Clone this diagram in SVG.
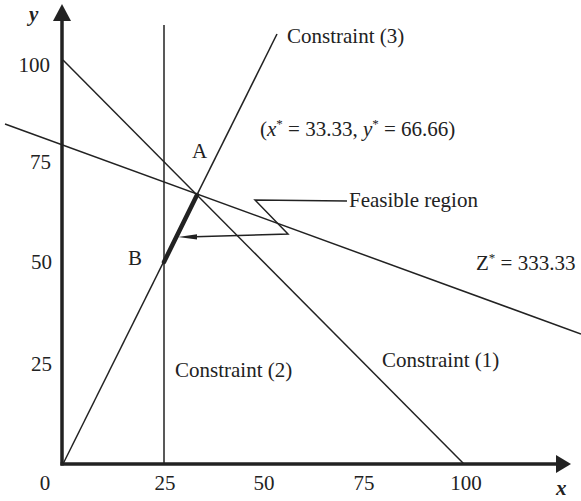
<svg xmlns="http://www.w3.org/2000/svg" width="581" height="501" viewBox="0 0 581 501">
<defs>
<style>
.t{font-family:"Liberation Serif","Times New Roman",serif;font-size:21px;fill:#222}
.ax{font-family:"Liberation Serif","Times New Roman",serif;font-size:21px;font-style:italic;font-weight:bold;fill:#222}
.ln{stroke:#222;stroke-width:1.5;fill:none}
.axis{stroke:#222;stroke-width:3.5;fill:none}
.sup{font-size:13px}
</style>
</defs>
<rect width="581" height="501" fill="#fff"/>
<g id="axes">
<line class="axis" x1="62" y1="465.5" x2="62" y2="18"/>
<polygon points="53,21 62,4 71,21" fill="#222"/>
<line class="axis" x1="60.5" y1="464" x2="557" y2="464"/>
<polygon points="556,455 571,464 556,473" fill="#222"/>
<text class="ax" x="29" y="21">y</text>
<text class="ax" x="556" y="495">x</text>
<text class="t" x="50" y="72" text-anchor="end">100</text>
<text class="t" x="51" y="169" text-anchor="end">75</text>
<text class="t" x="52" y="269" text-anchor="end">50</text>
<text class="t" x="52" y="371" text-anchor="end">25</text>
<text class="t" x="45" y="490" text-anchor="middle">0</text>
<text class="t" x="165" y="490" text-anchor="middle">25</text>
<text class="t" x="264" y="490" text-anchor="middle">50</text>
<text class="t" x="364" y="490" text-anchor="middle">75</text>
<text class="t" x="466" y="490" text-anchor="middle">100</text>
</g>
<g id="connectors">
<line id="constraint1-line" class="ln" x1="63" y1="60" x2="464" y2="464"/>
<line id="constraint2-line" class="ln" x1="164" y1="25" x2="164" y2="464" stroke="#333"/>
<line id="constraint3-line" class="ln" x1="63" y1="464" x2="277" y2="34"/>
<line id="z-line" class="ln" x1="5" y1="124" x2="581" y2="334"/>
<line id="feasible-segment" x1="164" y1="262" x2="197" y2="195" stroke="#222" stroke-width="4.5" stroke-linecap="round"/>
<polyline class="ln" points="347,201 255,200 288,234 195,236.7"/>
<polygon points="178,237 197,234.2 197,239.5" fill="#222"/>
</g>
<g id="label-c3"><text class="t" x="287" y="43">Constraint (3)</text></g>
<g id="label-opt"><text class="t" x="260" y="136">(<tspan font-style="italic">x</tspan><tspan class="sup" dy="-8">*</tspan><tspan dy="8"> = 33.33, </tspan><tspan font-style="italic">y</tspan><tspan class="sup" dy="-8">*</tspan><tspan dy="8"> = 66.66)</tspan></text></g>
<g id="label-A"><text class="t" x="192" y="158">A</text></g>
<g id="label-B"><text class="t" x="128" y="265">B</text></g>
<g id="label-feasible"><text class="t" x="349" y="207">Feasible region</text></g>
<g id="label-z"><text class="t" x="476" y="270">Z<tspan class="sup" dy="-8">*</tspan><tspan dy="8"> = 333.33</tspan></text></g>
<g id="label-c2"><text class="t" x="175" y="377">Constraint (2)</text></g>
<g id="label-c1"><text class="t" x="382" y="367">Constraint (1)</text></g>
</svg>
